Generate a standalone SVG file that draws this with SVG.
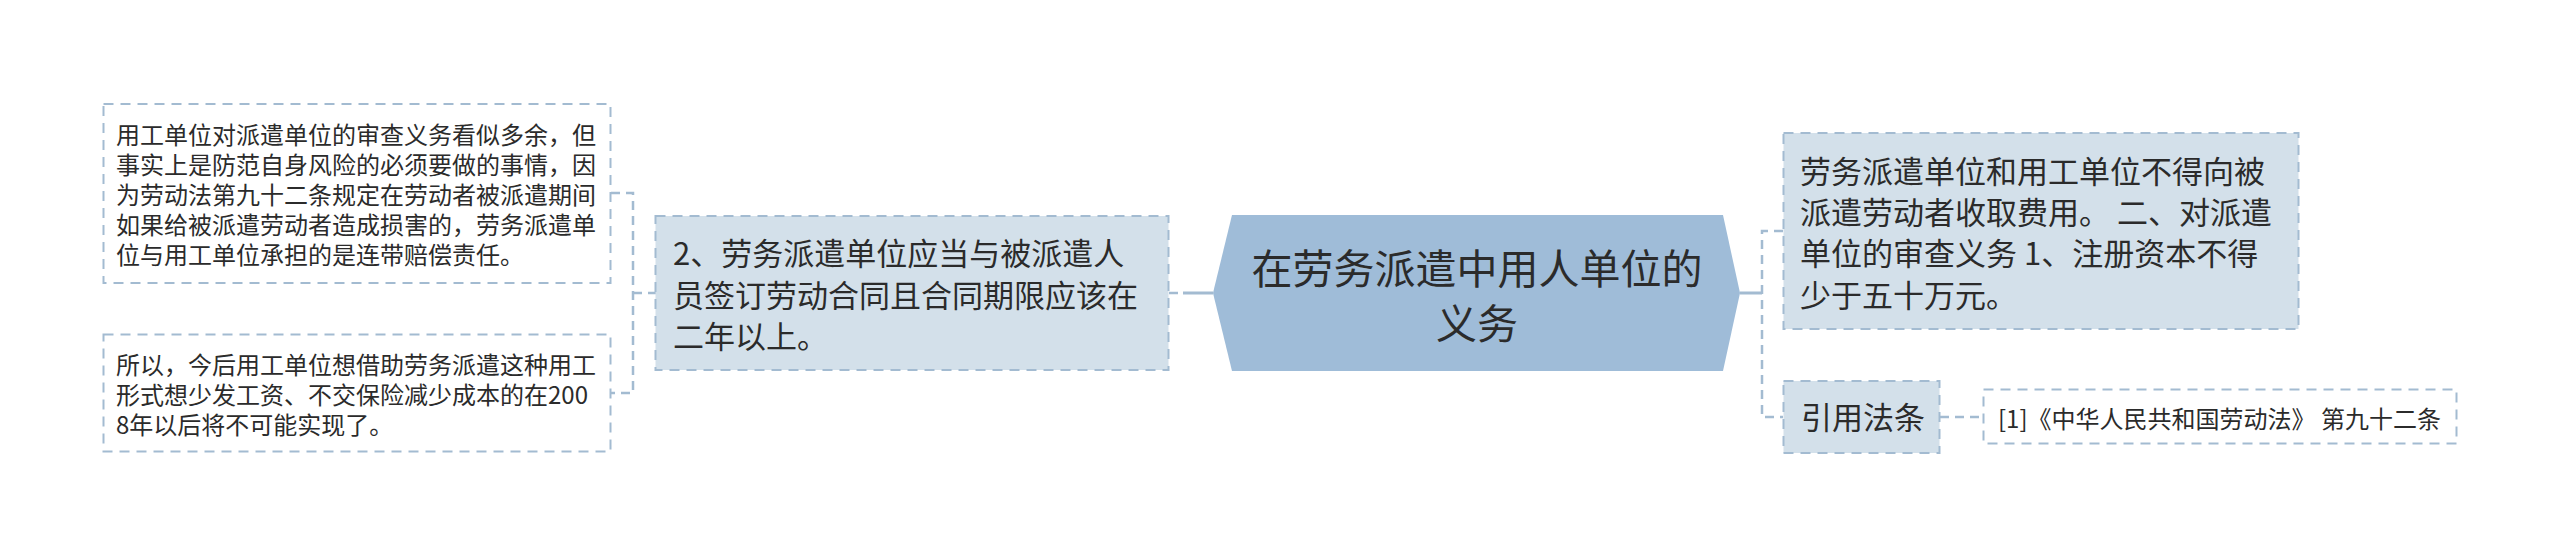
<svg xmlns="http://www.w3.org/2000/svg" width="2560" height="557" viewBox="0 0 2560 557">
<style>
  .t { font-family: "Noto Sans CJK SC", "Noto Sans", sans-serif; fill: #2b2b2b; dominant-baseline: central; }
  .s24 { font-size: 24px; }
  .s31 { font-size: 31px; }
  .s41 { font-size: 41px; }
  .plain { fill: #ffffff; stroke: #a3bbd1; stroke-width: 2; stroke-dasharray: 10 7; }
  .filled { fill: #d3e0ea; stroke: #a3bbd1; stroke-width: 2; stroke-dasharray: 10 7; }
  .conn { fill: none; stroke: #a3bbd1; stroke-width: 2.5; stroke-dasharray: 9 6; }
  .solid { fill: none; stroke: #a3bbd1; stroke-width: 3; }
</style>
<rect width="2560" height="557" fill="#ffffff"/>
<g id="connectors">
  <path class="conn" d="M611,193 H633 V393 H611"/>
  <path class="conn" d="M633,293 H656"/>
  <path class="solid" d="M1213,293 H1183"/>
  <path class="conn" d="M1178,293 H1168"/>
  <path class="solid" d="M1740,293 H1762"/>
  <path class="conn" d="M1783,231 H1762 V417 H1783"/>
  <path class="conn" d="M1940,417 H1983"/>
</g>
<g id="root">
  <polygon points="1213,293 1232,215 1723,215 1740,293 1723,371 1232,371" fill="#9fbcd8"/>
  <text class="t s41" x="1477" y="266" text-anchor="middle">在劳务派遣中用人单位的</text>
  <text class="t s41" x="1477" y="321" text-anchor="middle">义务</text>
</g>
<g id="node-left-main">
  <rect class="filled" x="655.5" y="216" width="513" height="154"/>
  <text class="t s31" x="673" y="251.5">2、劳务派遣单位应当与被派遣人</text>
  <text class="t s31" x="673" y="293">员签订劳动合同且合同期限应该在</text>
  <text class="t s31" x="673" y="334.5">二年以上。</text>
</g>
<g id="node-left-1">
  <rect class="plain" x="103.5" y="104" width="507" height="179"/>
  <text class="t s24" x="116" y="133">用工单位对派遣单位的审查义务看似多余，但</text>
  <text class="t s24" x="116" y="163">事实上是防范自身风险的必须要做的事情，因</text>
  <text class="t s24" x="116" y="193">为劳动法第九十二条规定在劳动者被派遣期间</text>
  <text class="t s24" x="116" y="223">如果给被派遣劳动者造成损害的，劳务派遣单</text>
  <text class="t s24" x="116" y="253">位与用工单位承担的是连带赔偿责任。</text>
</g>
<g id="node-left-2">
  <rect class="plain" x="103.5" y="334.5" width="507" height="117"/>
  <text class="t s24" x="116" y="363">所以，今后用工单位想借助劳务派遣这种用工</text>
  <text class="t s24" x="116" y="393">形式想少发工资、不交保险减少成本的在200</text>
  <text class="t s24" x="116" y="423">8年以后将不可能实现了。</text>
</g>
<g id="node-right-1">
  <rect class="filled" x="1783.5" y="133" width="515" height="196"/>
  <text class="t s31" x="1800" y="169">劳务派遣单位和用工单位不得向被</text>
  <text class="t s31" x="1800" y="210.5">派遣劳动者收取费用。 二、对派遣</text>
  <text class="t s31" x="1800" y="251.5">单位的审查义务 1、注册资本不得</text>
  <text class="t s31" x="1800" y="293">少于五十万元。</text>
</g>
<g id="node-right-2">
  <rect class="filled" x="1783.5" y="381" width="156" height="72"/>
  <text class="t s31" x="1801" y="415">引用法条</text>
</g>
<g id="node-right-3">
  <rect class="plain" x="1983.5" y="389.5" width="473" height="54"/>
  <text class="t s24" x="1998" y="417">[1]《中华人民共和国劳动法》 第九十二条</text>
</g>
</svg>
